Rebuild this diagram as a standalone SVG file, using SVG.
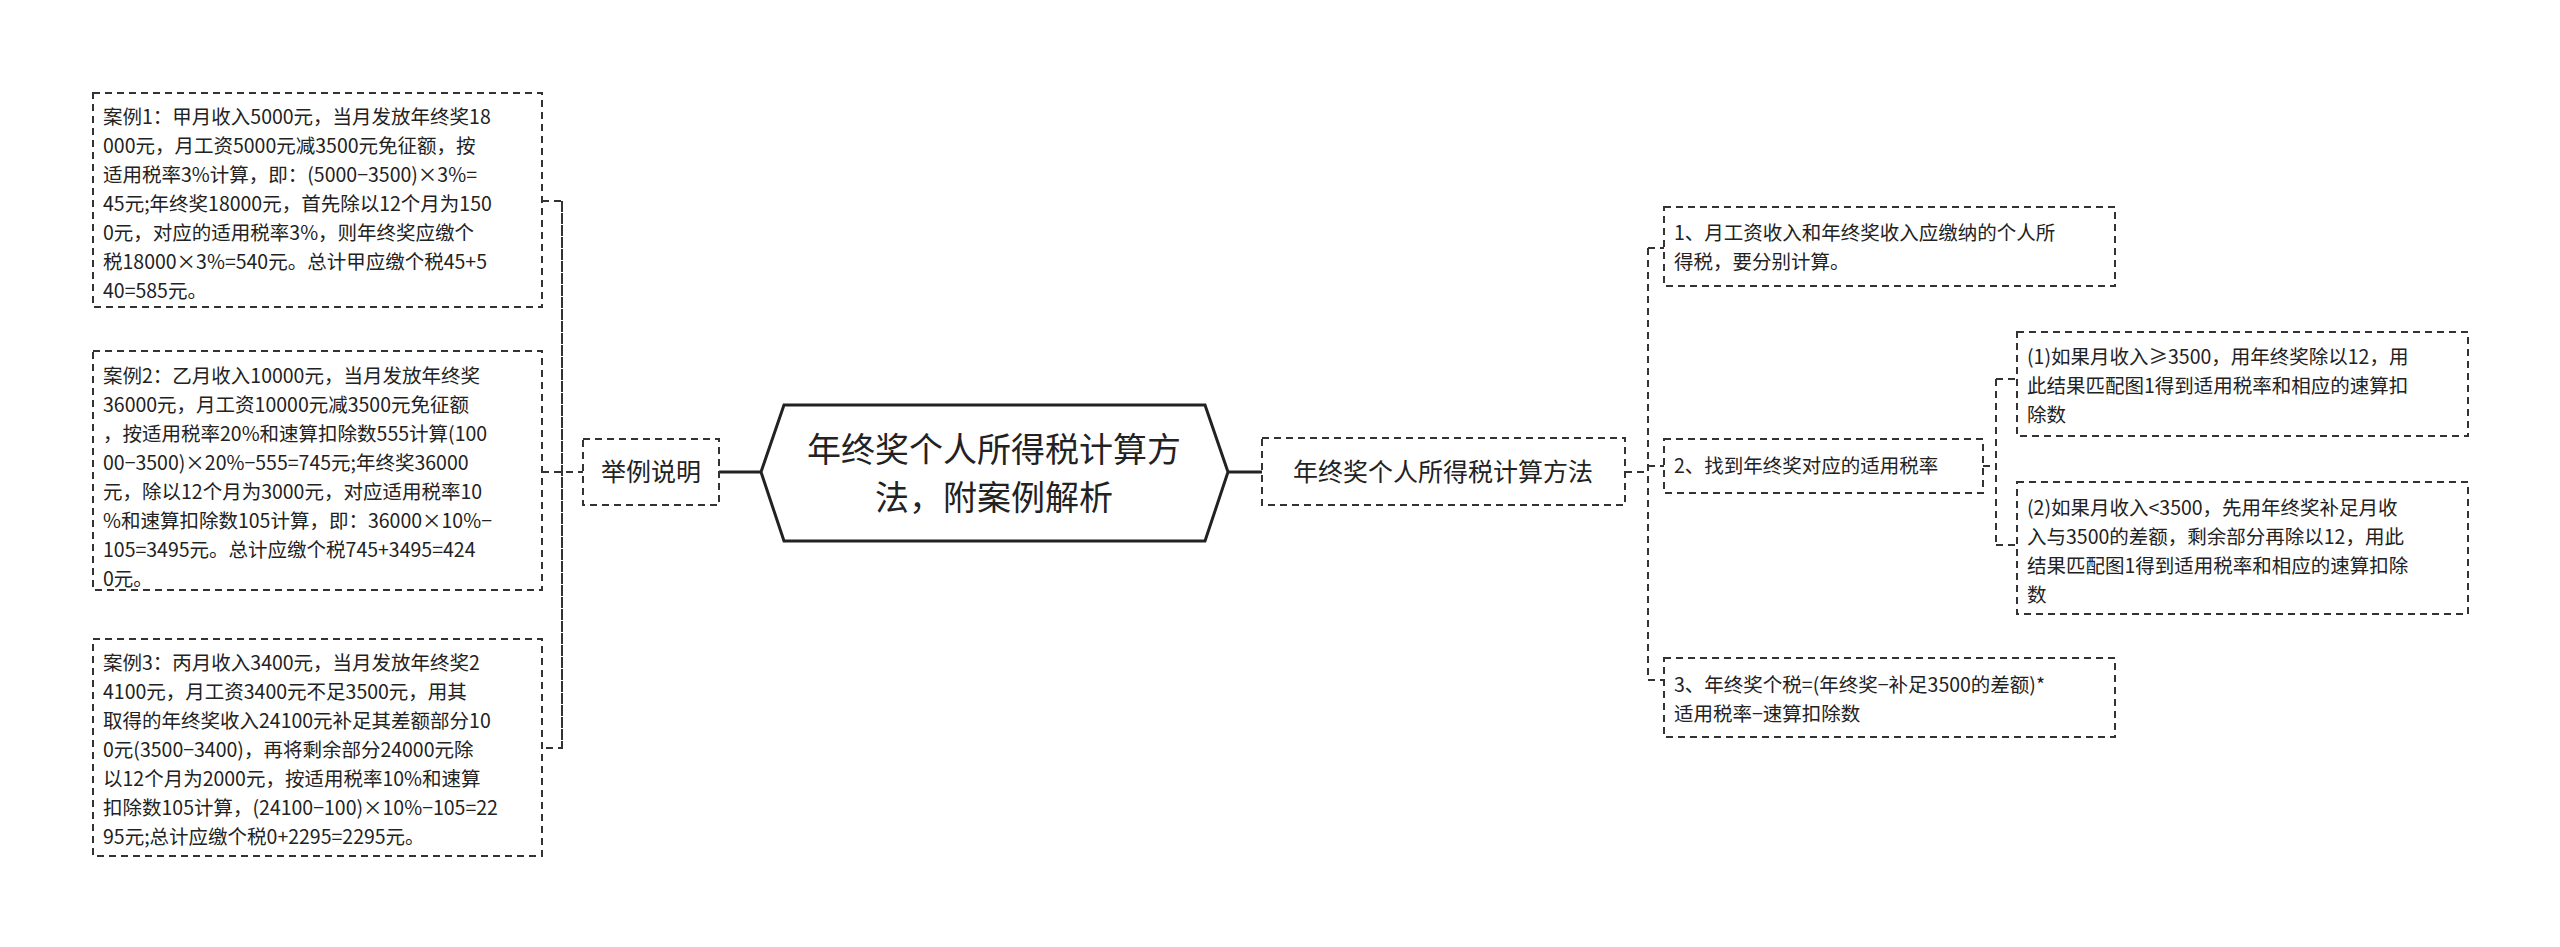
<svg xmlns="http://www.w3.org/2000/svg" width="2560" height="947" viewBox="0 0 2560 947">
<style>
.b{fill:#fff;stroke:#333;stroke-width:2;stroke-dasharray:7 5}
.c{fill:none;stroke:#333;stroke-width:2;stroke-dasharray:7 5}
.s{fill:none;stroke:#222;stroke-width:3}
text{font-family:"Noto Sans CJK SC","Liberation Sans",sans-serif;fill:#222;font-size:19.5px}
.m{font-size:25px}
.h{font-size:34px}
</style>
<rect width="2560" height="947" fill="#fff"/>
<g id="connectors">
<path class="c" d="M542 201H562V748H542M542 472H583M562 201V748"/>
<path class="s" d="M719 472H761M1228 472H1262"/>
<path class="c" d="M1625 472H1648M1648 248V680M1648 248H1664M1648 466H1664M1648 680H1664"/>
<path class="c" d="M1983 466H1996M1996 379V545M1996 379H2017M1996 545H2017"/>
</g>
<g id="case1"><rect class="b" x="93" y="93" width="449" height="214"/>
<text x="103" y="124">案例1：甲月收入5000元，当月发放年终奖18</text>
<text x="103" y="153">000元，月工资5000元减3500元免征额，按</text>
<text x="103" y="182">适用税率3%计算，即：(5000−3500)×3%=</text>
<text x="103" y="211">45元;年终奖18000元，首先除以12个月为150</text>
<text x="103" y="240">0元，对应的适用税率3%，则年终奖应缴个</text>
<text x="103" y="269">税18000×3%=540元。总计甲应缴个税45+5</text>
<text x="103" y="298">40=585元。</text></g>
<g id="case2"><rect class="b" x="93" y="351" width="449" height="239"/>
<text x="103" y="383">案例2：乙月收入10000元，当月发放年终奖</text>
<text x="103" y="412">36000元，月工资10000元减3500元免征额</text>
<text x="103" y="441">，按适用税率20%和速算扣除数555计算(100</text>
<text x="103" y="470">00−3500)×20%−555=745元;年终奖36000</text>
<text x="103" y="499">元，除以12个月为3000元，对应适用税率10</text>
<text x="103" y="528">%和速算扣除数105计算，即：36000×10%−</text>
<text x="103" y="557">105=3495元。总计应缴个税745+3495=424</text>
<text x="103" y="586">0元。</text></g>
<g id="case3"><rect class="b" x="93" y="639" width="449" height="217"/>
<text x="103" y="670">案例3：丙月收入3400元，当月发放年终奖2</text>
<text x="103" y="699">4100元，月工资3400元不足3500元，用其</text>
<text x="103" y="728">取得的年终奖收入24100元补足其差额部分10</text>
<text x="103" y="757">0元(3500−3400)，再将剩余部分24000元除</text>
<text x="103" y="786">以12个月为2000元，按适用税率10%和速算</text>
<text x="103" y="815">扣除数105计算，(24100−100)×10%−105=22</text>
<text x="103" y="844">95元;总计应缴个税0+2295=2295元。</text></g>
<g id="example"><rect class="b" x="583" y="439" width="136" height="66"/>
<text class="m" x="651" y="481" text-anchor="middle">举例说明</text></g>
<g id="root"><path d="M784 405H1205L1228 472L1205 541H784L761 472Z" fill="#fff" stroke="#222" stroke-width="3"/>
<text class="h" x="994" y="462" text-anchor="middle">年终奖个人所得税计算方</text>
<text class="h" x="994" y="510" text-anchor="middle">法，附案例解析</text></g>
<g id="method"><rect class="b" x="1262" y="438" width="363" height="67"/>
<text class="m" x="1443" y="481" text-anchor="middle">年终奖个人所得税计算方法</text></g>
<g id="step1"><rect class="b" x="1664" y="207" width="451" height="79"/>
<text x="1674" y="240">1、月工资收入和年终奖收入应缴纳的个人所</text>
<text x="1674" y="269">得税，要分别计算。</text></g>
<g id="step2"><rect class="b" x="1664" y="439" width="319" height="54"/>
<text x="1674" y="473">2、找到年终奖对应的适用税率</text></g>
<g id="sub1"><rect class="b" x="2017" y="332" width="451" height="104"/>
<text x="2027" y="364">(1)如果月收入≥3500，用年终奖除以12，用</text>
<text x="2027" y="393">此结果匹配图1得到适用税率和相应的速算扣</text>
<text x="2027" y="422">除数</text></g>
<g id="sub2"><rect class="b" x="2017" y="482" width="451" height="132"/>
<text x="2027" y="515">(2)如果月收入&lt;3500，先用年终奖补足月收</text>
<text x="2027" y="544">入与3500的差额，剩余部分再除以12，用此</text>
<text x="2027" y="573">结果匹配图1得到适用税率和相应的速算扣除</text>
<text x="2027" y="602">数</text></g>
<g id="step3"><rect class="b" x="1664" y="658" width="451" height="79"/>
<text x="1674" y="692">3、年终奖个税=(年终奖−补足3500的差额)*</text>
<text x="1674" y="721">适用税率−速算扣除数</text></g>
</svg>
